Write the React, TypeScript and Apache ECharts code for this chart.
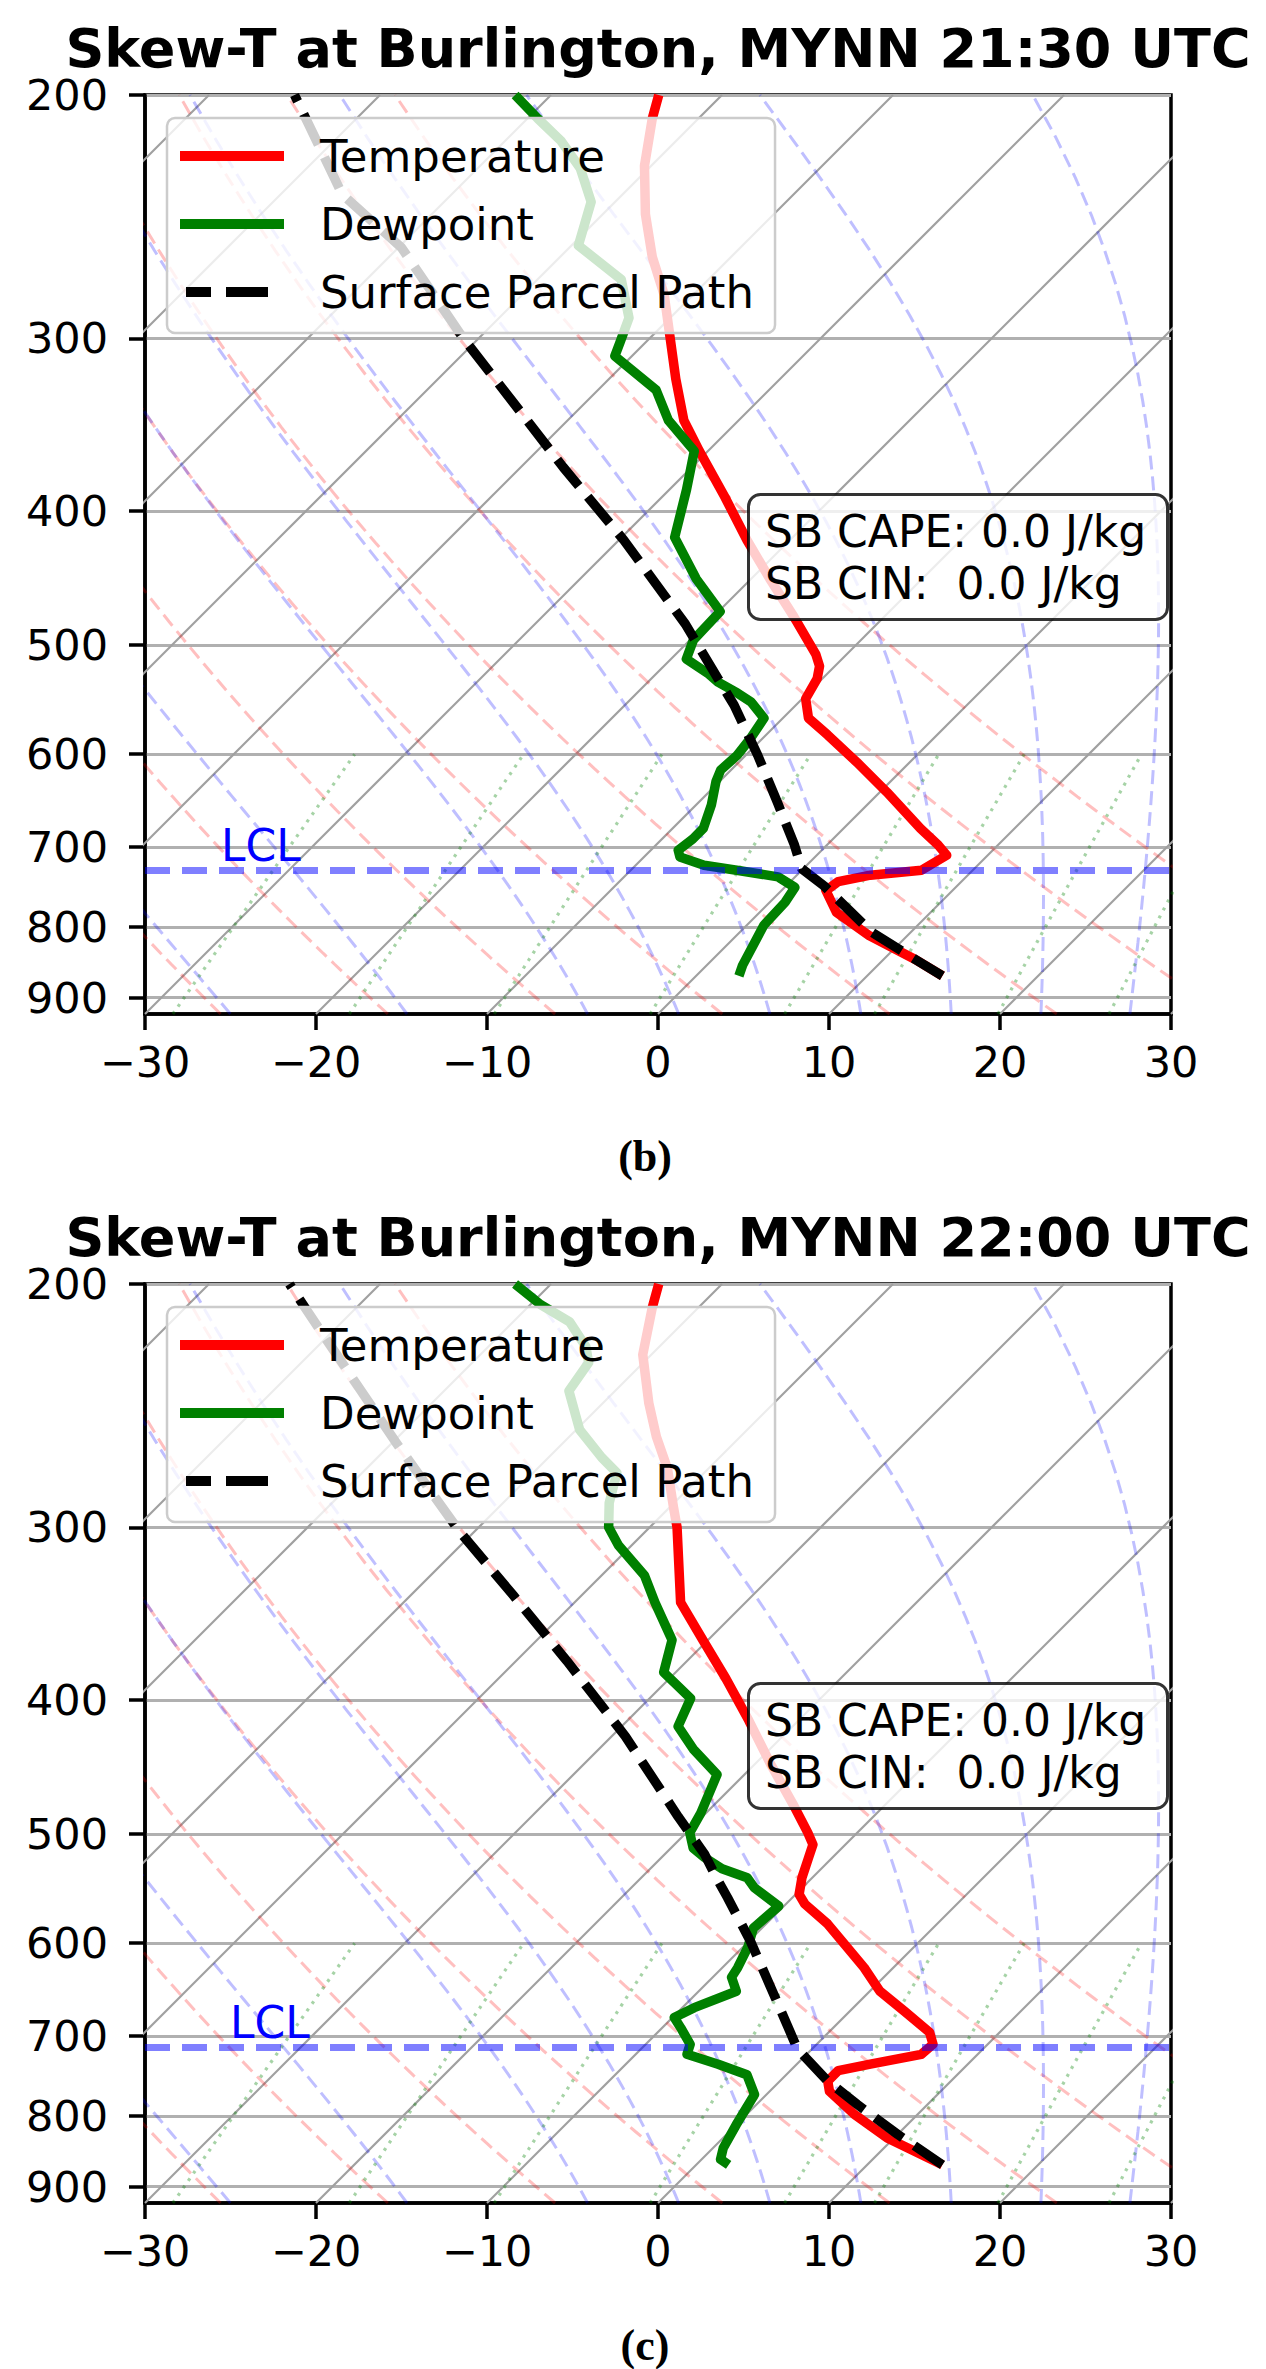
import React, { useEffect, useRef } from 'react';
import * as echarts from 'echarts';

const FONT = 'DejaVu Sans';

// axes
const P_TICKS = [200, 300, 400, 500, 600, 700, 800, 900];
const P_TOP = 200;
const P_BOTTOM = 925;
const T_MIN = -30;
const T_MAX = 30;

// background lines (MetPy-style defaults)
const ISOTHERMS = [-80, -70, -60, -50, -40, -30, -20, -10, 0, 10, 20, 30];
const DRY_T0 = [-30, -20, -10, 0, 10, 20, 30, 40, 50];
const MOIST_T0 = [-30, -20, -10, 0, 5, 10, 15, 20, 25, 30];
const MIXING_GKG = [0.4, 1, 2, 4, 7, 10, 16, 24, 32];

// 21:30 UTC profiles, [hPa, degC]
const TEMP_2130: [number, number][] = [
  [868, 14.4], [845, 11.9], [812, 7.8], [781, 4.5], [753, 2.6], [742, 2.8], [734, 4.3], [728, 7.0],
  [710, 7.6], [698, 6.5], [679, 4.5], [639, 0.4], [608, -3.1], [581, -6.4], [565, -8.5], [547, -9.8],
  [529, -10.3], [518, -10.9], [508, -11.8], [477, -15.3], [448, -18.9], [420, -22.5], [391, -26.3],
  [362, -30.5], [344, -33.2], [321, -36.1], [300, -38.8], [279, -41.7], [262, -44.6], [244, -47.5],
  [225, -50.4], [208, -52.7], [200, -53.7],
];
const DEW_2130: [number, number][] = [
  [868, 2.5], [853, 2.1], [798, 1.0], [768, 0.9], [749, 0.6], [736, -1.0], [728, -3.8], [722, -6.0],
  [712, -7.9], [704, -8.4], [691, -8.2], [679, -8.2], [653, -9.1], [628, -10.2], [616, -10.6],
  [601, -10.5], [585, -10.7], [565, -11.1], [550, -12.8], [542, -14.1], [532, -15.9], [525, -16.9],
  [512, -19.1], [496, -19.8], [473, -19.9], [448, -23.2], [418, -26.9], [386, -29.0], [362, -30.8],
  [344, -34.1], [327, -36.6], [309, -41.0], [302, -41.5], [290, -42.4], [272, -45.1], [257, -49.6],
  [239, -51.4], [226, -54.0], [216, -56.7], [208, -59.4], [200, -62.1],
];
const PARCEL_2130: [number, number][] = [
  [868, 14.4], [845, 11.9], [807, 7.7], [747, 2.2], [726, -0.1], [698, -1.9], [650, -5.4], [601, -9.3],
  [553, -13.6], [529, -16.1], [483, -21.2], [420, -29.7], [372, -37.5], [334, -44.2], [300, -50.9],
  [258, -59.8], [236, -66.4], [200, -75.0],
];
const LCL_2130 = 726;

// 22:00 UTC profiles, [hPa, degC]
const TEMP_2200: [number, number][] = [
  [868, 14.4], [830, 9.6], [798, 6.3], [768, 3.5], [755, 2.8], [742, 2.8], [734, 4.3], [722, 6.7],
  [710, 6.8], [696, 5.9], [672, 3.2], [650, 0.6], [625, -1.7], [604, -3.9], [581, -6.4], [562, -8.9],
  [553, -9.8], [538, -10.6], [520, -11.4], [509, -11.9], [499, -12.9], [477, -15.3], [445, -19.1],
  [414, -22.9], [386, -26.7], [362, -30.3], [340, -33.8], [300, -38.4], [290, -39.8], [272, -42.4],
  [258, -44.9], [244, -47.3], [225, -50.5], [208, -52.7], [200, -53.7],
];
const DEW_2200: [number, number][] = [
  [868, 1.9], [860, 1.1], [844, 0.6], [812, 0.0], [772, -0.7], [747, -2.3], [734, -4.6], [722, -7.0],
  [710, -7.4], [691, -8.9], [679, -9.9], [668, -9.3], [650, -7.8], [635, -8.9], [625, -9.1],
  [604, -9.7], [585, -10.5], [564, -10.3], [547, -12.8], [538, -13.8], [530, -15.8], [520, -17.5],
  [512, -18.7], [499, -19.8], [483, -20.3], [453, -21.6], [434, -24.5], [418, -26.7], [399, -27.6],
  [382, -30.7], [362, -32.1], [340, -35.3], [325, -37.5], [309, -40.8], [300, -42.4], [288, -43.8],
  [274, -45.1], [267, -46.9], [255, -49.8], [239, -52.7], [228, -53.2], [222, -54.3], [213, -56.7],
  [207, -59.4], [200, -62.1],
];
const PARCEL_2200: [number, number][] = [
  [868, 14.4], [825, 10.0], [785, 5.9], [755, 2.8], [715, -0.9], [698, -2.1], [646, -6.0], [598, -9.9],
  [556, -13.8], [538, -15.6], [517, -17.7], [486, -21.4], [425, -29.2], [375, -37.0], [336, -44.0],
  [302, -50.9], [260, -59.9], [212, -71.9], [200, -75.3],
];
const LCL_2200 = 715;

// layout in px
const GRID = { left: 137, top: 87, width: 1026, height: 919 };
const SKEW = (GRID.height / Math.log(P_BOTTOM / P_TOP)) / (GRID.width / (T_MAX - T_MIN));

const skewPt = (t: number, p: number) => [t + SKEW * Math.log(P_BOTTOM / p), Math.log(p)];

// thermo helpers for the background lines
const EPS = 0.6219569;
const RD = 287.04749;
const CPD = 1004.6662;
const LV = 2.50084e6;
const satVap = (tc: number) => 6.112 * Math.exp((17.67 * tc) / (tc + 243.5));

function levels(p0: number, p1: number, n: number) {
  const out: number[] = [];
  for (let i = 0; i < n; i++) out.push(p0 + ((p1 - p0) * i) / (n - 1));
  return out;
}

function moistDtDp(p: number, tk: number) {
  const es = satVap(tk - 273.15);
  const rs = (EPS * es) / Math.max(p - es, 1e-3);
  return ((RD * tk + LV * rs) / (CPD + (LV * LV * rs * EPS) / (RD * tk * tk))) / p;
}

function moistCurve(t0: number, ps: number[]) {
  let p = 1000;
  let tk = t0 + 273.15;
  const out: number[][] = [];
  for (const target of ps) {
    const n = Math.max(1, Math.ceil(Math.abs(target - p) / 2));
    const h = (target - p) / n;
    for (let i = 0; i < n; i++) {
      const k1 = moistDtDp(p, tk);
      const k2 = moistDtDp(p + h / 2, tk + (h / 2) * k1);
      const k3 = moistDtDp(p + h / 2, tk + (h / 2) * k2);
      const k4 = moistDtDp(p + h, tk + h * k3);
      tk += (h / 6) * (k1 + 2 * k2 + 2 * k3 + k4);
      p += h;
    }
    p = target;
    if (isFinite(tk)) out.push(skewPt(tk - 273.15, target));
  }
  return out;
}

function refLine(data: number[][], color: string, width: number, type: any) {
  return {
    type: 'line',
    data,
    symbol: 'none',
    silent: true,
    z: 1,
    emphasis: { disabled: true },
    lineStyle: { color, width, type },
  };
}

function backgroundSeries() {
  const full = levels(P_BOTTOM, P_TOP, 50);
  const low = levels(P_BOTTOM, 600, 50);
  const out: any[] = [];
  ISOTHERMS.forEach((t) => {
    out.push(refLine([skewPt(t, P_BOTTOM), skewPt(t, P_TOP)], '#a0a0a0', 2.2, 'solid'));
  });
  DRY_T0.forEach((t0) => {
    const data = full.map((p) => skewPt((t0 + 273.15) * Math.pow(p / 1000, RD / CPD) - 273.15, p));
    out.push(refLine(data, 'rgba(255,0,0,0.25)', 3, [14, 7]));
  });
  MOIST_T0.forEach((t0) => {
    out.push(refLine(moistCurve(t0, full), 'rgba(0,0,255,0.25)', 3, [14, 7]));
  });
  MIXING_GKG.forEach((g) => {
    const w = g / 1000;
    const data = low.map((p) => {
      const e = (p * w) / (EPS + w);
      const l = Math.log(e / 6.112);
      return skewPt((243.5 * l) / (17.67 - l), p);
    });
    out.push(refLine(data, 'rgba(0,128,0,0.35)', 3.2, [3, 6]));
  });
  return out;
}

const SOLID_ICON = 'path://M0,0H104V10H0Z';
const DASH_ICON = 'path://M0,0L0,0M104,10L104,10M6,0H31V10H6ZM46,0H88V10H46Z';

interface PanelCfg {
  title: string;
  caption: string;
  temp: [number, number][];
  dew: [number, number][];
  parcel: [number, number][];
  lcl: number;
  lclDx: number;
}

function buildOption(cfg: PanelCfg) {
  const profile = (name: string, rows: [number, number][], color: string, type: any, width: number) => ({
    name,
    type: 'line',
    data: rows.map(([p, t]) => skewPt(t, p)),
    symbol: 'none',
    color,
    z: 3,
    silent: true,
    emphasis: { disabled: true },
    lineStyle: { color, width, type, join: 'round' },
  });
  const pLog = P_TICKS.map((p) => Math.log(p));
  return {
    animation: false,
    backgroundColor: '#ffffff',
    textStyle: { fontFamily: FONT },
    title: [
      {
        text: cfg.title,
        left: 650,
        top: 13,
        padding: 0,
        textAlign: 'center',
        textStyle: { fontFamily: FONT, fontSize: 54, fontWeight: 'bold', color: '#000' },
      },
      {
        text: 'SB CAPE: 0.0 J/kg\nSB CIN:  0.0 J/kg',
        left: 740,
        top: 486,
        padding: [11, 22, 11, 17],
        backgroundColor: 'rgba(255,255,255,0.8)',
        borderColor: 'rgba(0,0,0,0.8)',
        borderWidth: 3,
        borderRadius: 12,
        z: 10,
        textStyle: { fontFamily: FONT, fontSize: 44, fontWeight: 'normal', lineHeight: 52, color: '#000' },
      },
      {
        text: `{n|(}{b|${cfg.caption}}{n|)}`,
        left: 637,
        top: 1126,
        padding: 0,
        textAlign: 'center',
        textStyle: {
          rich: {
            n: { fontFamily: 'Liberation Serif', fontSize: 44, color: '#000' },
            b: { fontFamily: 'Liberation Serif', fontSize: 44, fontWeight: 'bold', color: '#000' },
          },
        },
      },
    ],
    legend: {
      orient: 'vertical',
      left: 159,
      top: 110,
      padding: [13, 21, 16, 13],
      itemGap: 18,
      itemWidth: 104,
      itemHeight: 10,
      symbolKeepAspect: false,
      selectedMode: false,
      backgroundColor: 'rgba(255,255,255,0.8)',
      borderColor: '#cccccc',
      borderWidth: 2.5,
      borderRadius: 8,
      z: 10,
      textStyle: { fontFamily: FONT, fontSize: 45, color: '#000', lineHeight: 50, padding: [0, 0, 0, 31] },
      data: [
        { name: 'Temperature', icon: SOLID_ICON, itemStyle: { color: '#ff0000', borderWidth: 0 } },
        { name: 'Dewpoint', icon: SOLID_ICON, itemStyle: { color: '#008000', borderWidth: 0 } },
        { name: 'Surface Parcel Path', icon: DASH_ICON, itemStyle: { color: '#000000', borderWidth: 0 } },
      ],
    },
    grid: { ...GRID, show: true, borderColor: '#000', borderWidth: 3.5, containLabel: false },
    xAxis: {
      type: 'value',
      min: T_MIN,
      max: T_MAX,
      interval: 10,
      axisLine: { show: true, onZero: false, lineStyle: { color: '#000', width: 3.5 } },
      axisTick: { show: true, length: 16, lineStyle: { color: '#000', width: 3.5 } },
      axisLabel: {
        fontFamily: FONT,
        fontSize: 43,
        color: '#000',
        margin: 26,
        formatter: (v: number) => (v < 0 ? '\u2212' + Math.abs(v) : String(v)),
      },
      splitLine: { show: false },
    },
    yAxis: {
      type: 'value',
      inverse: true,
      min: Math.log(P_TOP),
      max: Math.log(P_BOTTOM),
      axisLine: { show: true, onZero: false, lineStyle: { color: '#000', width: 3.5 } },
      axisTick: { show: true, length: 16, customValues: pLog, lineStyle: { color: '#000', width: 3.5 } },
      axisLabel: {
        customValues: pLog,
        fontFamily: FONT,
        fontSize: 43,
        color: '#000',
        margin: 37,
        formatter: (v: number) => String(Math.round(Math.exp(v))),
      },
      splitLine: { show: true, lineStyle: { color: '#b0b0b0', width: 2.8 } },
    },
    series: [
      ...backgroundSeries(),
      profile('Temperature', cfg.temp, '#ff0000', 'solid', 9.5),
      profile('Dewpoint', cfg.dew, '#008000', 'solid', 9.5),
      profile('Surface Parcel Path', cfg.parcel, '#000000', [34, 14], 9.5),
      {
        name: 'LCL',
        type: 'line',
        data: [],
        silent: true,
        z: 4,
        markLine: {
          silent: true,
          symbol: 'none',
          animation: false,
          lineStyle: { color: 'rgba(0,0,255,0.5)', width: 7, type: [25, 12] },
          label: {
            show: true,
            formatter: 'LCL',
            position: 'insideStartTop',
            distance: [cfg.lclDx, 3],
            color: '#0000ff',
            fontFamily: FONT,
            fontSize: 44,
          },
          emphasis: { disabled: true },
          data: [{ yAxis: Math.log(cfg.lcl) }],
        },
      },
    ],
  };
}

function SkewTPanel({ cfg, top, height }: { cfg: PanelCfg; top: number; height: number }) {
  const ref = useRef<HTMLDivElement>(null);
  useEffect(() => {
    if (!ref.current) return;
    const chart = echarts.init(ref.current, undefined, { renderer: 'svg' });
    chart.setOption(buildOption(cfg) as any);
    return () => chart.dispose();
  }, [cfg]);
  return <div ref={ref} style={{ position: 'absolute', left: 0, top, width: 1266, height }} />;
}

const PANEL_B: PanelCfg = {
  title: 'Skew-T at Burlington, MYNN 21:30 UTC',
  caption: 'b',
  temp: TEMP_2130,
  dew: DEW_2130,
  parcel: PARCEL_2130,
  lcl: LCL_2130,
  lclDx: 76,
};

const PANEL_C: PanelCfg = {
  title: 'Skew-T at Burlington, MYNN 22:00 UTC',
  caption: 'c',
  temp: TEMP_2200,
  dew: DEW_2200,
  parcel: PARCEL_2200,
  lcl: LCL_2200,
  lclDx: 85,
};

export default function App() {
  return (
    <div style={{ position: 'relative', width: 1266, height: 2369 }}>
      <SkewTPanel cfg={PANEL_B} top={0} height={1189} />
      <SkewTPanel cfg={PANEL_C} top={1189} height={1180} />
    </div>
  );
}
